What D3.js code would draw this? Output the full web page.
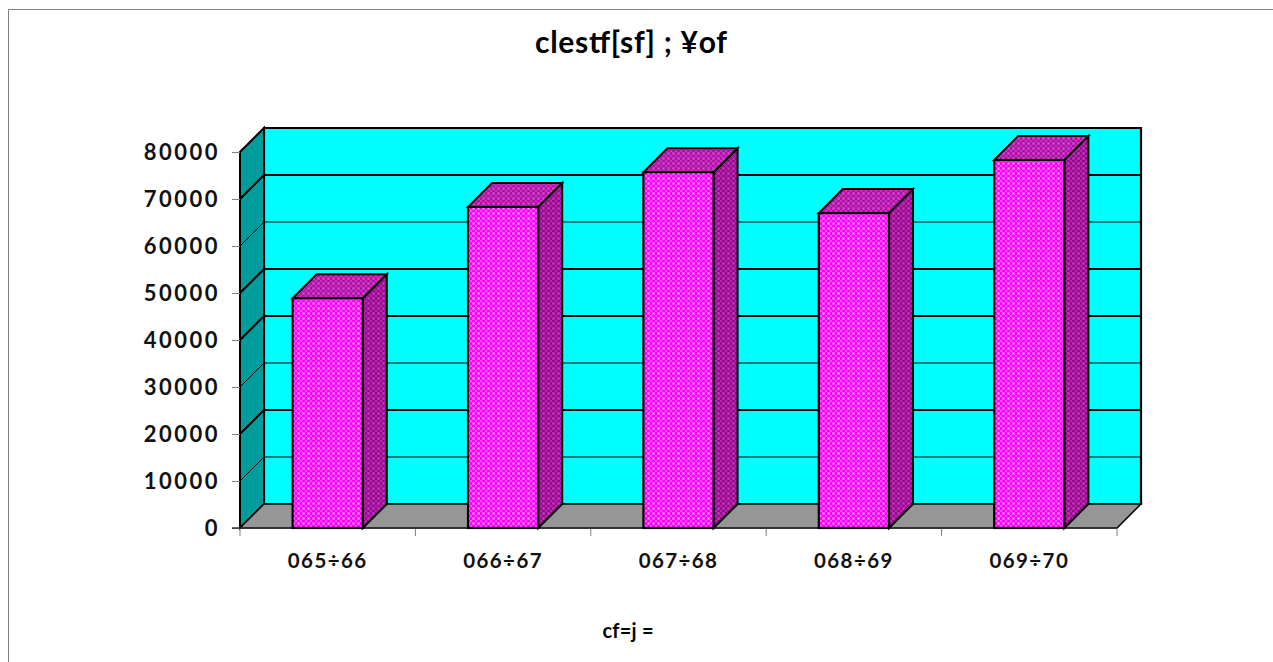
<!DOCTYPE html>
<html lang="en">

<head>
    <meta charset="UTF-8">
    <title>bar3d</title>
    <script src="https://cdn.jsdelivr.net/npm/d3@7"></script>
    <style>
        html, body { margin: 0; padding: 0; background: #fff; }
        svg { display: block; }
    </style>
</head>

<body>
    <svg width="1273" height="662" id="mainsvg"></svg>
    <script>
        const categories = ['065÷66', '066÷67', '067÷68', '068÷69', '069÷70']
        const values = [48900, 68300, 75700, 67000, 78300]
        const yTicks = [0, 10000, 20000, 30000, 40000, 50000, 60000, 70000, 80000]
        const titleText = 'clestf[sf] ; ¥of'
        const xTitleText = 'cf=j ='

        const svg = d3.select('#mainsvg')
        const depth = 24
        const plotLeft = 240, plotRight = 1117, plotBottom = 528, plotTop = 152
        const font = 'Lato, sans-serif'

        const xScale = d3.scaleBand().domain(categories).range([plotLeft, plotRight])
            .paddingInner(0.6).paddingOuter(0.3)
        const yScale = d3.scaleLinear().domain([0, 80000]).range([plotBottom, plotTop])

        // checkered textures for the bar faces
        const defs = svg.append('defs')
        function addPattern(id, base, block, dot) {
            const p = defs.append('pattern').attr('id', id)
                .attr('width', 5).attr('height', 5)
                .attr('patternUnits', 'userSpaceOnUse')
            p.append('rect').attr('width', 5).attr('height', 5).attr('fill', base)
            p.append('rect').attr('x', 0).attr('y', 0).attr('width', 2).attr('height', 2).attr('fill', block)
            p.append('rect').attr('x', 2).attr('y', 2).attr('width', 3).attr('height', 3).attr('fill', block)
            p.append('rect').attr('x', 3).attr('y', 3).attr('width', 1).attr('height', 1).attr('fill', dot)
        }
        addPattern('faceFront', '#ff00ff', '#ff50ff', '#ffc0ff')
        addPattern('faceSide', '#980a90', '#b428ac', '#c040b8')
        addPattern('faceTop', '#ae12a6', '#c634be', '#d454cc')

        // outer frame, open on the right and bottom
        svg.append('path').attr('d', 'M8.5,662 V9.5 H1273')
            .attr('fill', 'none').attr('stroke', '#808080').attr('stroke-width', 1)

        const poly = pts => 'M' + pts.map(p => p.join(',')).join('L') + 'Z'
        const y0 = yScale(0), yMax = yScale(80000)

        const g = svg.append('g')
        // back wall
        g.append('path')
            .attr('d', poly([[plotLeft + depth, yMax - depth], [plotRight + depth, yMax - depth], [plotRight + depth, y0 - depth], [plotLeft + depth, y0 - depth]]))
            .attr('fill', '#00ffff').attr('stroke', '#000').attr('stroke-width', 2.2)
        // side wall
        g.append('path')
            .attr('d', poly([[plotLeft, yMax], [plotLeft + depth, yMax - depth], [plotLeft + depth, y0 - depth], [plotLeft, y0]]))
            .attr('fill', '#009c9c').attr('stroke', '#000').attr('stroke-width', 2)
        // floor
        g.append('path')
            .attr('d', poly([[plotLeft, y0], [plotLeft + depth, y0 - depth], [plotRight + depth, y0 - depth], [plotRight, y0]]))
            .attr('fill', '#969696').attr('stroke', '#000').attr('stroke-width', 1.5)

        // gridlines on wall, some come out thinner in the original
        const thinGrid = [10000, 30000, 60000]
        g.selectAll('.grid').data(yTicks.slice(1, -1)).join('path').attr('class', 'grid')
            .attr('d', d => `M${plotLeft},${yScale(d)}L${plotLeft + depth},${yScale(d) - depth}H${plotRight + depth}`)
            .attr('fill', 'none').attr('stroke', '#000')
            .attr('stroke-width', d => thinGrid.includes(d) ? 1 : 2)

        // axes
        const yAxis = d3.axisLeft(yScale).tickValues(yTicks).tickFormat(d3.format('d')).tickSize(8).tickPadding(12)
        const yG = svg.append('g').attr('transform', `translate(${plotLeft},0)`).call(yAxis)
        yG.select('.domain').remove()
        yG.selectAll('.tick line').attr('stroke', '#808080')
        yG.selectAll('text').attr('font-family', font).attr('font-weight', 700)
            .attr('font-size', 22).attr('letter-spacing', 2.5).attr('fill', '#111')

        const xAxis = d3.axisBottom(xScale).tickSize(0).tickPadding(25)
        const xG = svg.append('g').attr('transform', `translate(0,${plotBottom})`).call(xAxis)
        xG.select('.domain').remove()
        xG.selectAll('text').attr('font-family', font).attr('font-weight', 700)
            .attr('font-size', 20.5).attr('letter-spacing', 1.4).attr('fill', '#111')

        // category separator ticks
        svg.selectAll('.sep').data(d3.range(categories.length + 1)).join('line').attr('class', 'sep')
            .attr('x1', i => plotLeft + i * xScale.step()).attr('x2', i => plotLeft + i * xScale.step())
            .attr('y1', plotBottom).attr('y2', plotBottom + 8)
            .attr('stroke', '#808080')
        svg.append('line').attr('x1', plotLeft - 8).attr('x2', plotRight).attr('y1', plotBottom).attr('y2', plotBottom)
            .attr('stroke', '#333').attr('stroke-width', 1.5)

        // bars
        const bars = svg.selectAll('.bar').data(categories).join('g').attr('class', 'bar')
        const bx = d => xScale(d), bw = xScale.bandwidth()
        const by = (d, i) => yScale(values[i])
        bars.append('path')
            .attr('d', (d, i) => poly([[bx(d) + bw, by(d, i)], [bx(d) + bw + depth, by(d, i) - depth], [bx(d) + bw + depth, y0 - depth], [bx(d) + bw, y0]]))
            .attr('fill', 'url(#faceSide)').attr('stroke', '#000').attr('stroke-width', 2)
        bars.append('path')
            .attr('d', (d, i) => poly([[bx(d), by(d, i)], [bx(d) + depth, by(d, i) - depth], [bx(d) + bw + depth, by(d, i) - depth], [bx(d) + bw, by(d, i)]]))
            .attr('fill', 'url(#faceTop)').attr('stroke', '#000').attr('stroke-width', 2)
        bars.append('rect')
            .attr('x', bx).attr('y', by).attr('width', bw)
            .attr('height', (d, i) => y0 - by(d, i))
            .attr('fill', 'url(#faceFront)').attr('stroke', '#000').attr('stroke-width', 2.2)

        // titles
        svg.append('text').attr('x', 631).attr('y', 53).attr('text-anchor', 'middle')
            .attr('font-family', font).attr('font-weight', 700)
            .attr('font-size', 30).attr('textLength', 192).attr('lengthAdjust', 'spacing')
            .attr('fill', '#000').text(titleText)
        svg.append('text').attr('x', 628).attr('y', 638).attr('text-anchor', 'middle')
            .attr('font-family', font).attr('font-weight', 700)
            .attr('font-size', 20).attr('textLength', 51).attr('lengthAdjust', 'spacing')
            .attr('fill', '#000').text(xTitleText)
    </script>
</body>

</html>
